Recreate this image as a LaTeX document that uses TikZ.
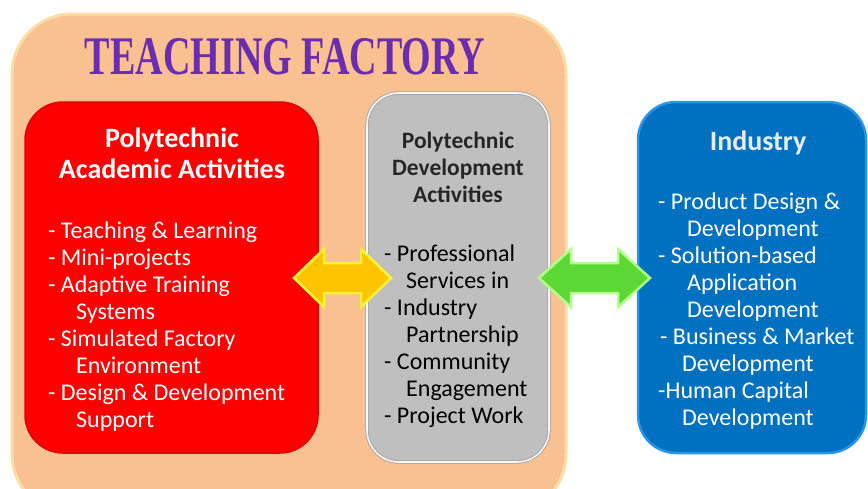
\documentclass[tikz,border=0pt]{standalone}
\usepackage{fontspec}
\usepackage{graphicx}
\setmainfont{Carlito}
\newfontfamily\titlefont{Liberation Serif}
\usetikzlibrary{calc}
\definecolor{peach}{HTML}{F9C091}
\definecolor{peachedge}{HTML}{FCDDA6}
\definecolor{redfill}{HTML}{FF0000}
\definecolor{rededge}{HTML}{E00000}
\definecolor{grayfill}{HTML}{BFBFBF}
\definecolor{grayedge}{HTML}{A0A0A0}
\definecolor{bluefill}{HTML}{0070C0}
\definecolor{blueedge}{HTML}{2A95E8}
\definecolor{purpletitle}{HTML}{6A2DB0}
\definecolor{yellowfill}{HTML}{FFC400}
\definecolor{yellowedge}{HTML}{FFF23A}
\definecolor{greenfill}{HTML}{5CD834}
\definecolor{greenedge}{HTML}{B4FF8A}
\definecolor{graytext}{HTML}{262626}
\definecolor{industrytext}{HTML}{E6ECF2}
\tikzset{
  boxbase/.style={rectangle, rounded corners=38pt, inner sep=0pt},
  peachbox/.style={boxbase, rounded corners=60pt, fill=peach, draw=peachedge, line width=3pt},
  redbox/.style={boxbase, fill=redfill, draw=rededge, line width=1.5pt},
  graybox/.style={boxbase, rounded corners=32pt, fill=grayfill, draw=grayedge, double=white!95!gray, double distance=1.6pt, line width=0.8pt},
  bluebox/.style={boxbase, fill=bluefill, draw=blueedge, line width=2.5pt},
  bodytext/.style={anchor=base west, inner sep=0pt, font=\fontsize{24}{27}\selectfont},
  redtext/.style={bodytext, text=white},
  graytextitem/.style={bodytext, text=black},
  bluetext/.style={bodytext, text=white},
  headtext/.style={anchor=base, inner sep=0pt, font=\bfseries\fontsize{28}{31}\selectfont},
  grayhead/.style={anchor=base, inner sep=0pt, text=graytext, font=\bfseries\fontsize{23.5}{27}\selectfont},
  yarrow/.style={fill=yellowfill, draw=yellowedge, line width=2.5pt, line join=miter},
  garrow/.style={fill=greenfill, draw=greenedge, line width=2.5pt, line join=miter}
}
\begin{document}
\begin{tikzpicture}[x=1pt,y=-1pt]
\useasboundingbox (0,0) rectangle (868,488);
\clip (0,0) rectangle (868,488);
% outer teaching factory box
\node[peachbox, minimum width=554pt, minimum height=500pt] (tf) at (289,264) {};
\node[inner sep=0pt, anchor=base, text=purpletitle] (title) at (285,74)
  {\resizebox{400pt}{36pt}{\titlefont\bfseries TEACHING FACTORY}};
% boxes
\node[redbox, minimum width=293pt, minimum height=351pt] (red) at (171.5,277.5) {};
\node[graybox, minimum width=182pt, minimum height=369pt] (gray) at (458,277.5) {};
\node[bluebox, minimum width=228pt, minimum height=351pt] (blue) at (752,277.5) {};
% red box text
\node[headtext, text=white] (rh1) at (172,147) {Polytechnic};
\node[headtext, text=white] (rh2) at (172,178) {Academic Activities};
\node[redtext] (r1) at (48,238) {- Teaching \& Learning};
\node[redtext] (r2) at (48,265) {- Mini-projects};
\node[redtext] (r3) at (48,292) {- Adaptive Training};
\node[redtext] (r4) at (76,319) {Systems};
\node[redtext] (r5) at (48,346) {- Simulated Factory};
\node[redtext] (r6) at (76,373) {Environment};
\node[redtext] (r7) at (48,400) {- Design \& Development};
\node[redtext] (r8) at (76,427) {Support};
% gray box text
\node[grayhead] (gh1) at (458,148) {Polytechnic};
\node[grayhead] (gh2) at (458,175) {Development};
\node[grayhead] (gh3) at (458,202) {Activities};
\node[graytextitem] (g1) at (384,261) {- Professional};
\node[graytextitem] (g2) at (406,288) {Services in};
\node[graytextitem] (g3) at (384,315) {- Industry};
\node[graytextitem] (g4) at (406,342) {Partnership};
\node[graytextitem] (g5) at (384,369) {- Community};
\node[graytextitem] (g6) at (406,396) {Engagement};
\node[graytextitem] (g7) at (384,423) {- Project Work};
% blue box text
\node[headtext, text=industrytext] (bh) at (758,150) {Industry};
\node[bluetext] (b1) at (658,209) {- Product Design \&};
\node[bluetext] (b2) at (687,236) {Development};
\node[bluetext] (b3) at (658,263) {- Solution-based};
\node[bluetext] (b4) at (687,290) {Application};
\node[bluetext] (b5) at (687,317) {Development};
\node[bluetext] (b6) at (660,344) {- Business \& Market};
\node[bluetext] (b7) at (682,371) {Development};
\node[bluetext] (b8) at (658,398) {-Human Capital};
\node[bluetext] (b9) at (682,425) {Development};
% double arrows
\coordinate (ya1) at (294,278);
\coordinate (ya2) at (391,278);
\draw[yarrow] (ya1) -- ++(30,-29) -- ++(0,14) -- ($(ya2)+(-30,-15)$) -- ++(0,-14) -- (ya2)
  -- ++(-30,29) -- ++(0,-14) -- ($(ya1)+(30,15)$) -- ++(0,14) -- cycle;
\coordinate (ga1) at (539,278);
\coordinate (ga2) at (650,278);
\draw[garrow] (ga1) -- ++(32,-29) -- ++(0,14) -- ($(ga2)+(-32,-15)$) -- ++(0,-14) -- (ga2)
  -- ++(-32,29) -- ++(0,-14) -- ($(ga1)+(32,15)$) -- ++(0,14) -- cycle;
\end{tikzpicture}
\end{document}
